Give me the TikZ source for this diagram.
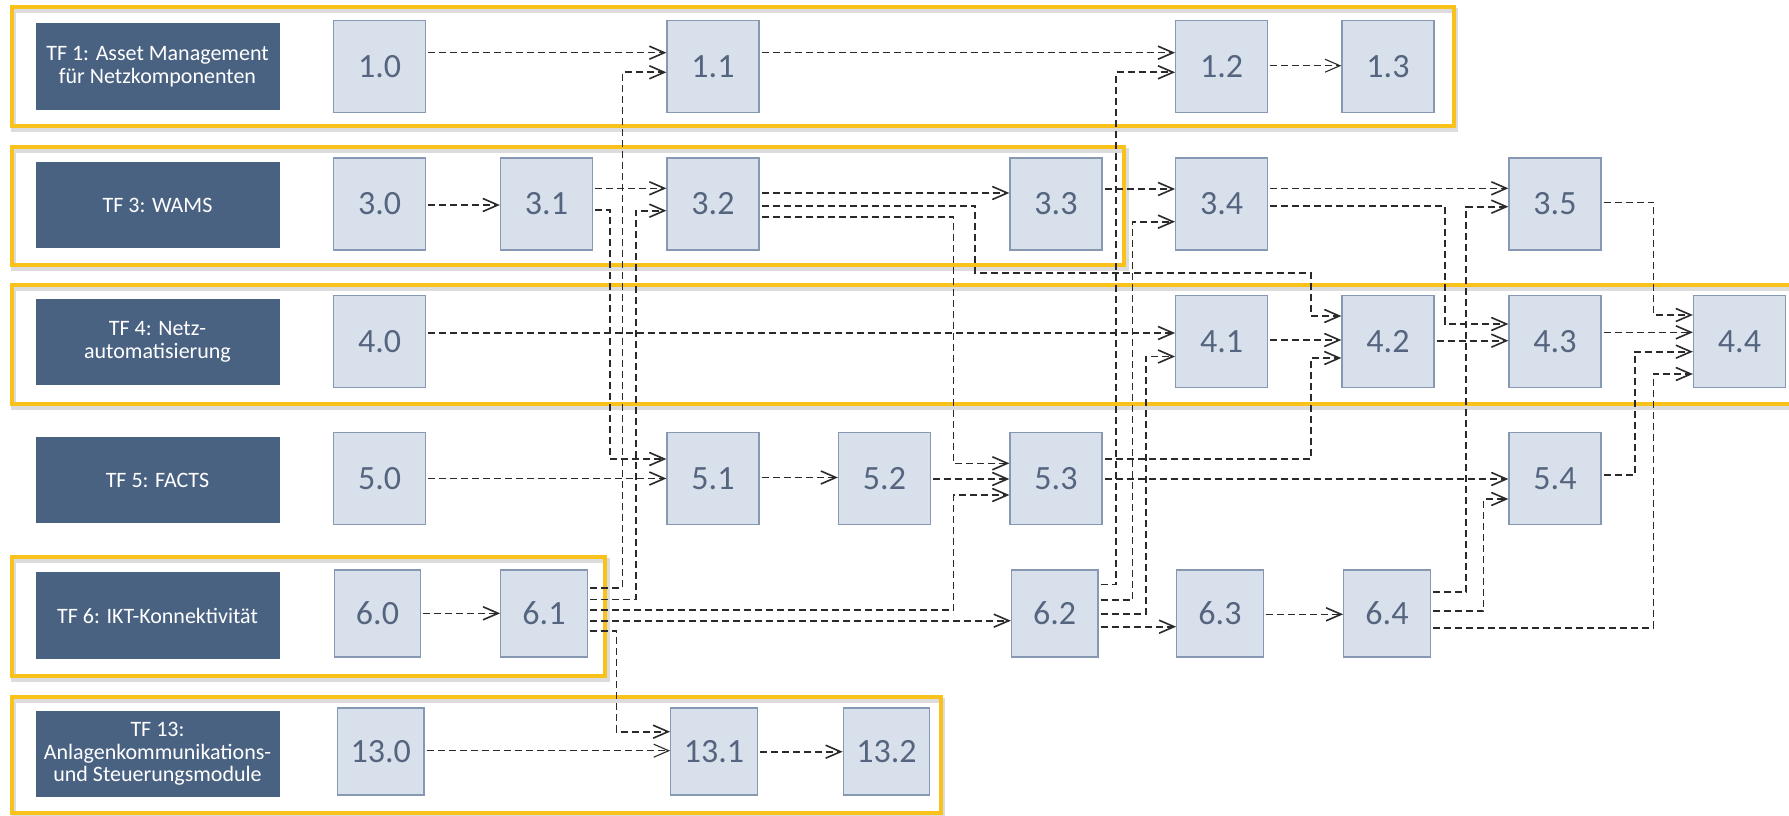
\documentclass[tikz,border=0pt]{standalone}
\usepackage{fontspec}
\setmainfont{Carlito}
\usetikzlibrary{arrows.meta}
\definecolor{tfblue}{HTML}{4A6282}
\definecolor{boxfill}{HTML}{D8E0EB}
\definecolor{boxline}{HTML}{8799B2}
\definecolor{numtext}{HTML}{56657F}
\definecolor{gold}{HTML}{F8C21A}
\definecolor{wire}{HTML}{2A2A2A}
\tikzset{
  tflabel/.style={fill=tfblue, text=white, minimum width=244pt, minimum height=86.7pt,
    inner sep=0pt, align=center, font=\fontsize{22}{22.5}\selectfont},
  wp/.style={fill=boxfill, draw=boxline, line width=1.3pt, minimum width=92pt,
    minimum height=92pt, inner sep=0pt, text=numtext, font=\fontsize{34}{34}\selectfont},
  wpsmall/.style={wp, minimum width=86.5pt, minimum height=87pt},
  frame/.style={draw=gold, line width=4pt},
  frameshadow/.style={draw=black!30, line width=5pt, opacity=0.45},
  conn/.style={draw=wire, line width=1.6pt, dash pattern=on 7pt off 4pt,
    shorten <=2pt, -{Straight Barb[length=15pt,width=13pt]}},
  connthin/.style={conn, line width=1.1pt},
}
\begin{document}
\begin{tikzpicture}[x=1pt,y=-1pt]
\clip (0,0) rectangle (1789,816);
\fill[white] (0,0) rectangle (1789,816);

% work-package frames with a soft shadow
\foreach \x/\ya/\yb in {1453.7/6.7/126, 1124/146.7/265, 1800/284.5/404, 605/556.7/676, 940.5/696.7/813}{
  \draw[frameshadow] (13.5,\ya+3.5) rectangle (\x+2,\yb+3.5);
  \draw[frame] (11.5,\ya) rectangle (\x,\yb);
}

% topic field labels
\node[tflabel] (tf1)  at (157.5,66.7) {TF 1: Asset Management\\für Netzkomponenten};
\node[tflabel] (tf3)  at (157.5,205)  {TF 3: WAMS};
\node[tflabel] (tf4)  at (157.5,342)  {TF 4: Netz-\\automatisierung};
\node[tflabel] (tf5)  at (157.5,480)  {TF 5: FACTS};
\node[tflabel] (tf6)  at (157.5,615.7) {TF 6: IKT-Konnektivität};
\node[tflabel] (tf13) at (157.5,754)  {TF 13:\\Anlagenkommunikations-\\und Steuerungsmodule};

% work packages
\node[wp] (n10) at (379.7,66.3) {1.0};
\node[wp] (n11) at (713,66.3)   {1.1};
\node[wp] (n12) at (1221.7,66.3) {1.2};
\node[wp] (n13) at (1388,66.3)  {1.3};

\node[wp] (n30) at (379.7,204) {3.0};
\node[wp] (n31) at (546.5,204) {3.1};
\node[wp] (n32) at (713,204)   {3.2};
\node[wp] (n33) at (1056,204)  {3.3};
\node[wp] (n34) at (1221.7,204) {3.4};
\node[wp] (n35) at (1555,204)  {3.5};

\node[wp] (n40) at (379.7,341.7) {4.0};
\node[wp] (n41) at (1221.7,341.7) {4.1};
\node[wp] (n42) at (1388,341.7)  {4.2};
\node[wp] (n43) at (1555,341.7)  {4.3};
\node[wp] (n44) at (1739.5,341.7) {4.4};

\node[wp] (n50) at (379.7,478.3) {5.0};
\node[wp] (n51) at (713,478.3)   {5.1};
\node[wp] (n52) at (884.5,478.3) {5.2};
\node[wp] (n53) at (1056,478.3)  {5.3};
\node[wp] (n54) at (1555,478.3)  {5.4};

\node[wpsmall] (n60) at (377.5,613.5) {6.0};
\node[wpsmall] (n61) at (544,613.5)   {6.1};
\node[wpsmall] (n62) at (1054.7,613.5) {6.2};
\node[wpsmall] (n63) at (1220,613.5)  {6.3};
\node[wpsmall] (n64) at (1387,613.5)  {6.4};

\node[wpsmall] (n130) at (380.7,751.5) {13.0};
\node[wpsmall] (n131) at (714,751.5)   {13.1};
\node[wpsmall] (n132) at (886.5,751.5) {13.2};

% dependencies: TF 1
\draw[conn] (n10.east |- 0,52.7) -- (n11.west |- 0,52.7);
\draw[conn] (n61.east |- 0,587.7) -| (622.6,72.3) -- (n11.west |- 0,72.3);
\draw[conn] (n11.east |- 0,52.7) -- (n12.west |- 0,52.7);
\draw[conn] (n62.east |- 0,584.3) -| (1116,72.3) -- (n12.west |- 0,72.3);
\draw[connthin] (n12.east |- 0,65.7) -- (n13.west |- 0,65.7);

% dependencies: TF 3
\draw[conn] (n30.east |- 0,205) -- (n31.west |- 0,205);
\draw[conn] (n31.east |- 0,188.3) -- (n32.west |- 0,188.3);
\draw[conn] (n61.east |- 0,599.3) -| (636,210.7) -- (n32.west |- 0,210.7);
\draw[conn] (n31.east |- 0,210) -| (610,459) -- (n51.west |- 0,459);
\draw[conn] (n32.east |- 0,193) -- (n33.west |- 0,193);
\draw[conn] (n32.east |- 0,205.7) -| (975,273) -| (1311,316) -- (n42.west |- 0,316);
\draw[conn] (n32.east |- 0,216.7) -| (953.4,463.3) -- (n53.west |- 0,463.3);
\draw[conn] (n33.east |- 0,189) -- (n34.west |- 0,189);
\draw[conn] (n62.east |- 0,600) -| (1132.5,221.7) -- (n34.west |- 0,221.7);
\draw[conn] (n34.east |- 0,188.3) -- (n35.west |- 0,188.3);
\draw[conn] (n34.east |- 0,205.7) -| (1445,324) -- (n43.west |- 0,324);
\draw[conn] (n64.east |- 0,591.7) -| (1466,206.7) -- (n35.west |- 0,206.7);
\draw[conn] (n35.east |- 0,202.3) -| (1653.6,315) -- (n44.west |- 0,315);

% dependencies: TF 4
\draw[conn] (n40.east |- 0,333) -- (n41.west |- 0,333);
\draw[conn] (n62.east |- 0,614) -| (1145.8,356.5) -- (n41.west |- 0,356.5);
\draw[conn] (n41.east |- 0,340) -- (n42.west |- 0,340);
\draw[conn] (n53.east |- 0,459) -| (1311,358) -- (n42.west |- 0,358);
\draw[conn] (n42.east |- 0,340.7) -- (n43.west |- 0,340.7);
\draw[conn] (n43.east |- 0,332.3) -- (n44.west |- 0,332.3);
\draw[conn] (n54.east |- 0,475) -| (1634.7,351.7) -- (n44.west |- 0,351.7);
\draw[conn] (n64.east |- 0,627.7) -| (1653.6,374) -- (n44.west |- 0,374);

% dependencies: TF 5
\draw[conn] (n50.east |- 0,478.5) -- (n51.west |- 0,478.5);
\draw[conn] (n51.east |- 0,477.5) -- (n52.west |- 0,477.5);
\draw[conn] (n52.east |- 0,479) -- (n53.west |- 0,479);
\draw[conn] (n61.east |- 0,610) -| (953.4,495) -- (n53.west |- 0,495);
\draw[conn] (n53.east |- 0,479) -- (n54.west |- 0,479);
\draw[conn] (n64.east |- 0,611) -| (1483.6,499) -- (n54.west |- 0,499);

% dependencies: TF 6
\draw[conn] (n60.east |- 0,613.3) -- (n61.west |- 0,613.3);
\draw[conn] (n61.east |- 0,620.7) -- (n62.west |- 0,620.7);
\draw[conn] (n61.east |- 0,630.7) -| (616.3,731.7) -- (n131.west |- 0,731.7);
\draw[conn] (n62.east |- 0,626.7) -- (n63.west |- 0,626.7);
\draw[conn] (n63.east |- 0,614.3) -- (n64.west |- 0,614.3);

% dependencies: TF 13
\draw[connthin] (n130.east |- 0,750.7) -- (n131.west |- 0,750.7);
\draw[conn] (n131.east |- 0,751.7) -- (n132.west |- 0,751.7);
\end{tikzpicture}
\end{document}
